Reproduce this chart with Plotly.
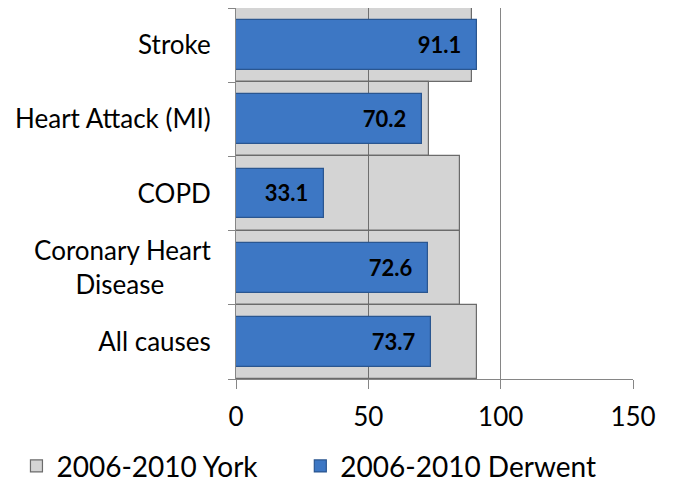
import plotly.graph_objects as go

# Data (bottom-to-top order, as plotted)
categories = ["All causes", "Coronary Heart<br>Disease" + "\u00a0" * 7, "COPD", "Heart Attack (MI)", "Stroke"]
york = [90.9, 84.8, 84.8, 72.8, 89.3]
derwent = [73.7, 72.6, 33.1, 70.2, 91.1]
x_ticks = [0, 50, 100, 150]

FONT = "Lato"

fig = go.Figure()

fig.add_trace(go.Bar(
    y=categories, x=york, orientation="h", name="2006-2010 York",
    width=1.0,
    marker=dict(color="rgba(0,0,0,0.17)", line=dict(color="#6b6b6b", width=1.2)),
    hoverinfo="x", legend="legend",
))

fig.add_trace(go.Bar(
    y=categories, x=derwent, orientation="h", name="2006-2010 Derwent",
    width=0.67,
    marker=dict(color="#3d77c4", line=dict(color="#2a5690", width=1.2)),
    text=[f"{v:.1f}\u00a0\u00a0\u200a" for v in derwent],
    textposition="inside", insidetextanchor="end",
    textfont=dict(family=FONT, size=22, color="black", weight="bold"),
    constraintext="none",
    hoverinfo="x", legend="legend2",
))

legend_common = dict(
    orientation="h", xanchor="left", y=-0.235, yanchor="middle",
    font=dict(family=FONT, size=28, color="black"),
    itemclick=False, bgcolor="rgba(0,0,0,0)",
)

fig.update_layout(
    width=675, height=483,
    margin=dict(l=236, r=42, t=8, b=104, autoexpand=False),
    barmode="overlay",
    plot_bgcolor="white", paper_bgcolor="white",
    font=dict(family=FONT, size=26, color="black"),
    showlegend=True,
    legend=dict(x=-0.553, **legend_common),
    legend2=dict(x=0.162, **legend_common),
    bargap=0,
)

fig.update_xaxes(
    range=[0, 150], tickvals=x_ticks, ticktext=[str(t) for t in x_ticks],
    showgrid=True, gridcolor="#868686", gridwidth=1,
    showline=True, linecolor="#868686", linewidth=1,
    ticks="outside", ticklen=9, tickcolor="#868686",
    zeroline=False, fixedrange=True,
    tickfont=dict(family=FONT, size=26),
    ticklabelstandoff=6,
)
fig.update_yaxes(
    type="category", categoryorder="array", categoryarray=categories,
    showline=True, linecolor="#868686", linewidth=1,
    ticks="outside", tickson="boundaries", ticklen=7, tickcolor="#868686",
    showgrid=False, fixedrange=True,
    tickfont=dict(family=FONT, size=26),
    ticklabelstandoff=19,
)

fig.write_html("out.html", post_script="document.body.style.margin='0';",
               config={"displayModeBar": False})
